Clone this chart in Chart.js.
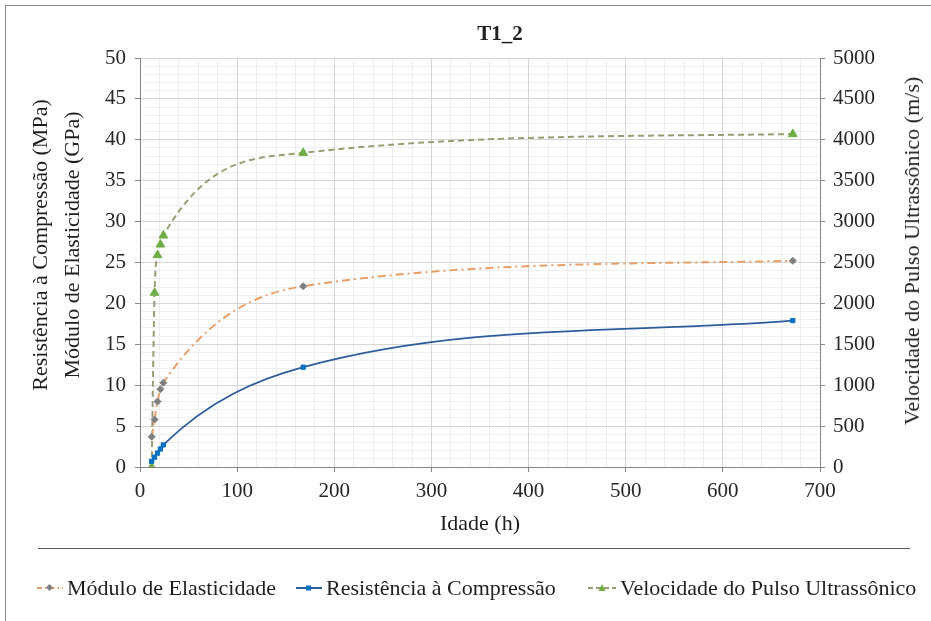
<!DOCTYPE html>
<html>
<head>
<meta charset="utf-8">
<script src="https://cdn.jsdelivr.net/npm/chart.js@4.4.1/dist/chart.umd.min.js"></script>
<style>
html,body{margin:0;padding:0;background:#fff;}
#wrap{position:relative;width:931px;height:621px;overflow:hidden;background:#fff;font-family:"Liberation Serif","Times New Roman",serif;color:#1f1f1f;}
#frame{position:absolute;left:5px;top:5px;width:1000px;height:1000px;border:1px solid #8c8c8c;box-sizing:border-box;}
canvas{position:absolute;left:0;top:0;}
.t{position:absolute;white-space:nowrap;transform:translate(-50%,-50%);}
.rot{transform:translate(-50%,-50%) rotate(-90deg);}
#title{font-weight:bold;font-size:21px;}
.ax{font-size:22px;}
#sep{position:absolute;left:38px;top:548px;width:872px;height:0;border-top:1px solid #595959;}
.lg{position:absolute;top:576px;height:24px;display:flex;align-items:center;font-size:22px;white-space:nowrap;}
.lg svg{margin-right:3px;}
</style>
</head>
<body>
<div id="wrap">
  <div id="frame"></div>
  <canvas id="c" width="931" height="621"></canvas>
  <div class="t" id="title" style="left:500px;top:33px;">T1_2</div>
  <div class="t rot ax" style="left:40px;top:245px;">Resistência à Compressão (MPa)</div>
  <div class="t rot ax" style="left:72px;top:245px;">Módulo de Elasticidade (GPa)</div>
  <div class="t rot ax" style="left:912px;top:251px;">Velocidade do Pulso Ultrassônico (m/s)</div>
  <div class="t ax" style="left:480px;top:523px;">Idade (h)</div>
  <div id="sep"></div>
  <div class="lg" style="left:36px;">
    <svg width="28" height="14"><line x1="1" y1="7" x2="27" y2="7" stroke="#E8A06A" stroke-width="2" stroke-dasharray="5,3,1.5,3"/><rect x="11" y="4" width="5" height="5" fill="#7F7F7F" transform="rotate(45 13.5 6.5)"/></svg>
    <span>Módulo de Elasticidade</span>
  </div>
  <div class="lg" style="left:295px;">
    <svg width="28" height="14"><line x1="1" y1="7" x2="27" y2="7" stroke="#2E5C9A" stroke-width="2"/><rect x="11" y="4.5" width="5" height="5" fill="#0070C0"/></svg>
    <span>Resistência à Compressão</span>
  </div>
  <div class="lg" style="left:587px;">
    <svg width="30" height="14"><line x1="1" y1="7" x2="29" y2="7" stroke="#9A9C74" stroke-width="2" stroke-dasharray="5,3"/><polygon points="15,3 18.5,10 11.5,10" fill="#70AD47"/></svg>
    <span>Velocidade do Pulso Ultrassônico</span>
  </div>
</div>
<script>
// Data
const ages = [12, 15, 18, 21, 24, 168, 672];
const moduloElasticidade = [3.7, 5.8, 8.0, 9.5, 10.3, 22.1, 25.2];
const resistenciaCompressao = [0.7, 1.2, 1.7, 2.2, 2.7, 12.2, 17.9];
const velocidadePulso = [0, 2130, 2590, 2720, 2830, 3840, 4070];
const xTicks = [0, 100, 200, 300, 400, 500, 600, 700];
const yLeftTicks = [0, 5, 10, 15, 20, 25, 30, 35, 40, 45, 50];
const yRightTicks = [0, 500, 1000, 1500, 2000, 2500, 3000, 3500, 4000, 4500, 5000];

const pts = (vals) => ages.map((a, i) => ({x: a, y: vals[i]}));
const tickFont = {family: "'Liberation Serif','Times New Roman',serif", size: 21};
const axisCol = '#868686';
const tickTxt = '#262626';
const plain = v => String(v);

new Chart(document.getElementById('c'), {
  type: 'line',
  data: {
    datasets: [
      {
        label: 'Módulo de Elasticidade',
        data: pts(moduloElasticidade),
        xAxisID: 'x', yAxisID: 'y',
        borderColor: '#E8A06A', borderWidth: 2, borderDash: [8, 4, 2, 4],
        pointStyle: 'rectRot', pointRadius: 3.5, pointBackgroundColor: '#7F7F7F', pointBorderColor: '#7F7F7F', pointBorderWidth: 1,
        cubicInterpolationMode: 'monotone', fill: false
      },
      {
        label: 'Resistência à Compressão',
        data: pts(resistenciaCompressao),
        xAxisID: 'x', yAxisID: 'y',
        borderColor: '#2E5C9A', borderWidth: 1.75,
        pointStyle: 'rect', pointRadius: 3, pointBackgroundColor: '#0070C0', pointBorderColor: '#0070C0', pointBorderWidth: 1,
        cubicInterpolationMode: 'monotone', fill: false
      },
      {
        label: 'Velocidade do Pulso Ultrassônico',
        data: pts(velocidadePulso),
        xAxisID: 'x', yAxisID: 'y2',
        borderColor: '#9A9C74', borderWidth: 2, borderDash: [6, 4],
        pointStyle: 'triangle', pointRadius: 5, pointBackgroundColor: '#70AD47', pointBorderColor: '#70AD47', pointBorderWidth: 1,
        cubicInterpolationMode: 'monotone', fill: false
      }
    ]
  },
  options: {
    responsive: false,
    animation: false,
    devicePixelRatio: 1,
    layout: {padding: {top: 58, left: 0, right: 0, bottom: 0}},
    plugins: {legend: {display: false}, title: {display: false}, tooltip: {enabled: false}},
    scales: {
      xm: {
        type: 'linear', position: 'bottom', min: 0, max: 700, z: -1,
        ticks: {display: false, stepSize: 20, maxTicksLimit: 100},
        grid: {color: '#efefef', drawTicks: false, lineWidth: 1},
        border: {display: false},
        afterFit: s => { s.height = 0; }
      },
      ym: {
        type: 'linear', position: 'left', min: 0, max: 50, z: -1,
        ticks: {display: false, stepSize: 1, maxTicksLimit: 100},
        grid: {color: '#efefef', drawTicks: false, lineWidth: 1},
        border: {display: false},
        afterFit: s => { s.width = 0; }
      },
      x: {
        type: 'linear', position: 'bottom', min: xTicks[0], max: xTicks[xTicks.length - 1],
        afterBuildTicks: s => { s.ticks = xTicks.map(v => ({value: v})); },
        ticks: {font: tickFont, color: tickTxt, padding: 7, maxRotation: 0, callback: plain},
        grid: {color: '#d6d6d6', tickColor: axisCol, tickLength: 5},
        border: {color: axisCol, width: 1},
        afterFit: s => { s.height = 154; }
      },
      y: {
        type: 'linear', position: 'left', min: yLeftTicks[0], max: yLeftTicks[yLeftTicks.length - 1],
        afterBuildTicks: s => { s.ticks = yLeftTicks.map(v => ({value: v})); },
        ticks: {font: tickFont, color: tickTxt, padding: 9, callback: plain},
        grid: {color: '#d6d6d6', tickColor: axisCol, tickLength: 5},
        border: {color: axisCol, width: 1},
        afterFit: s => { s.width = 140; }
      },
      y2: {
        type: 'linear', position: 'right', min: yRightTicks[0], max: yRightTicks[yRightTicks.length - 1],
        afterBuildTicks: s => { s.ticks = yRightTicks.map(v => ({value: v})); },
        ticks: {font: tickFont, color: tickTxt, padding: 8, callback: plain},
        grid: {drawOnChartArea: false, tickColor: axisCol, tickLength: 5},
        border: {color: axisCol, width: 1},
        afterFit: s => { s.width = 111; }
      }
    }
  }
});
</script>
</body>
</html>
